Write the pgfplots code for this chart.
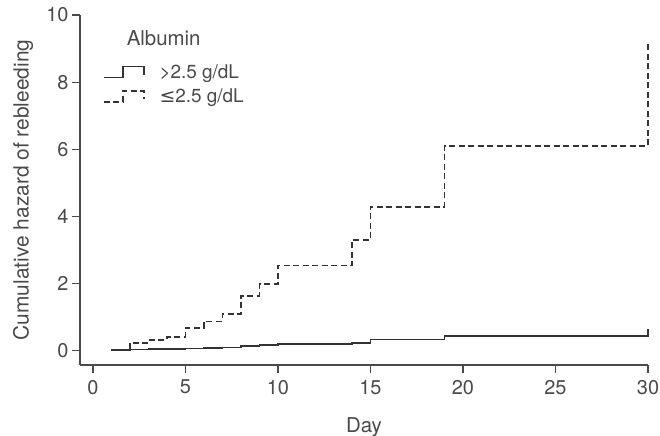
\documentclass[border=0pt]{standalone}
\usepackage{pgfplots}
\pgfplotsset{compat=1.18}
\usepackage{fontspec}
\setmainfont{TeX Gyre Heros}
\newfontfamily\dejavu{DejaVu Sans}
\definecolor{txt}{HTML}{4A4A4A}
\definecolor{ln}{HTML}{333333}
\begin{document}
\begin{tikzpicture}
\path[use as bounding box] (-80bp,-71bp) rectangle (580bp,365bp);
\begin{axis}[
  scale only axis,
  width=568bp, height=350bp,
  xmin=-0.7, xmax=30, ymin=-0.42, ymax=10,
  axis lines=left,
  axis line style={draw=txt, line width=1.2bp, -},
  xtick={0,5,10,15,20,25,30},
  ytick={0,2,4,6,8,10},
  tick align=outside,
  major tick length=8bp,
  tick style={draw=txt, line width=1.2bp},
  tick pos=left,
  /pgf/number format/assume math mode=true,
  font=\fontsize{20}{24}\selectfont,
  tick label style={text=txt, font=\fontsize{20}{24}\selectfont},
  xticklabel style={yshift=-3.5bp},
  xlabel={Day},
  ylabel={Cumulative hazard of rebleeding},
  every axis x label/.style={at={(axis description cs:0.5,0)}, yshift=-62bp, anchor=center, text=txt, font=\fontsize{20.5}{24}\selectfont},
  every axis y label/.style={at={(axis description cs:-0.1,0.5)}, rotate=90, anchor=center, text=txt, font=\fontsize{21}{25}\selectfont},
  legend style={at={(axis description cs:0.04,0.862)}, anchor=north west, draw=none, fill=none,
    font=\fontsize{19}{22}\selectfont, text=txt, row sep=7bp, column sep=14bp, inner sep=0pt,
    nodes={inner sep=1bp}},
  legend cell align=left,
  legend image code/.code={
    \draw[#1] (0bp,-5.5bp) -- (19bp,-5.5bp) -- (19bp,5.5bp) -- (40bp,5.5bp) -- (40bp,-3bp);
  },
  clip=false,
]
\addplot[const plot, ln, line width=1.6bp] coordinates {
(1,0.03) (2,0.04) (3,0.05) (4,0.06) (5,0.07) (6,0.08) (7,0.10) (8,0.14) (9,0.17) (10,0.20) (14,0.24) (15,0.34) (19,0.45) (30,0.65)
};
\addlegendentry{>2.5 g/dL}
\addplot[const plot, ln, line width=1.6bp, dash pattern=on 6bp off 3.5bp] coordinates {
(1,0.03) (2,0.24) (3,0.33) (4,0.42) (5,0.69) (6,0.88) (7,1.10) (8,1.64) (9,1.99) (10,2.54) (14,3.30) (15,4.29) (19,6.10) (30,9.18)
};
\addlegendentry{{\dejavu ≤}2.5 g/dL}
\node[anchor=base west, text=txt, font=\fontsize{20.5}{24}\selectfont, inner sep=0pt] at (axis description cs:0.082,0.914) {Albumin};
\end{axis}
\end{tikzpicture}
\end{document}
